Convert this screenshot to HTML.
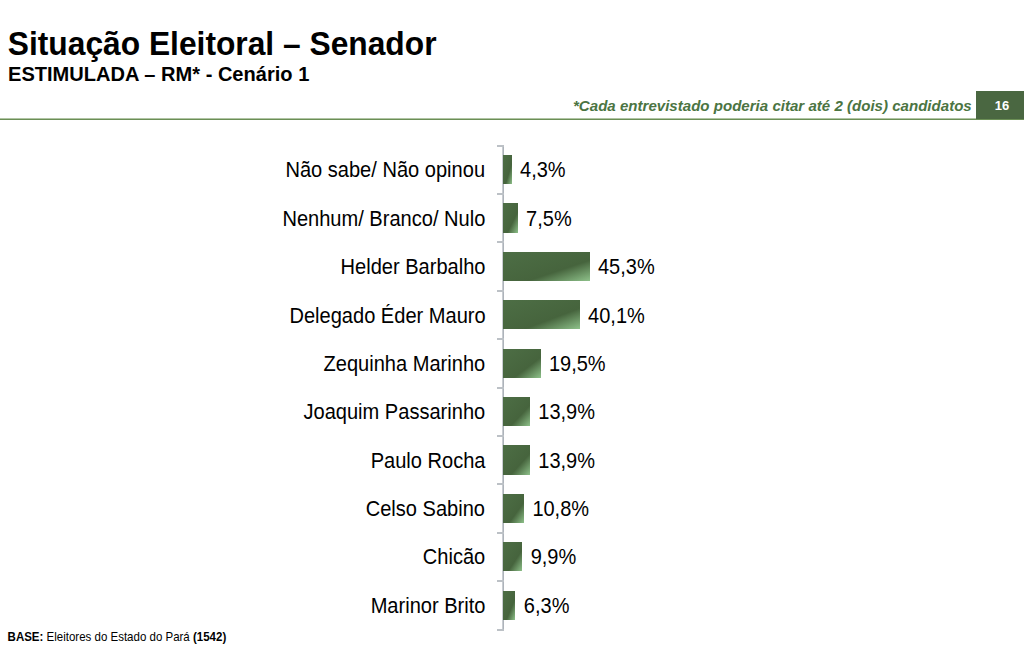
<!DOCTYPE html>
<html><head><meta charset="utf-8">
<style>
html,body{margin:0;padding:0;background:#fff;}
body{width:1024px;height:646px;position:relative;overflow:hidden;font-family:"Liberation Sans",sans-serif;color:#000;}
.t1{position:absolute;left:8px;top:24px;font-size:32px;font-weight:bold;line-height:38px;white-space:nowrap;transform-origin:0 19px;transform:translate(-0.2px,0px) scale(0.992,1.055);}
.t2{position:absolute;left:8.1px;top:62.6px;font-size:20px;font-weight:bold;line-height:22px;white-space:nowrap;transform-origin:0 11px;transform:scale(1.003,1.042);}
.note{position:absolute;left:573px;top:95.6px;font-size:15px;font-weight:bold;font-style:italic;color:#4b7442;line-height:20px;white-space:nowrap;transform-origin:0 10px;transform:scale(1.005,1.0);}
.hline{position:absolute;left:0;top:119px;width:1024px;height:1px;background:#6b8f55;box-shadow:0 -1px 0 #b0c4a4;}
.pg{position:absolute;left:976px;top:91px;width:48px;height:28px;background:#4a6741;}
.pgn{position:absolute;left:978px;top:92.4px;width:48px;color:#fff;font-weight:bold;font-size:13px;line-height:28px;text-align:center;transform-origin:50% 14px;transform:scaleY(1.03);}
.axis{position:absolute;left:502px;top:144.85px;width:2px;height:485.60px;background:linear-gradient(to right,#c9cdd2 50%,#adb3ba 50%);}
.tick{position:absolute;left:497px;width:7px;height:2px;background:#bcc1c6;}
.bar{position:absolute;left:503.0px;height:29.2px;background:linear-gradient(to bottom right,#4d6e45 0%,#46643d 64%,#8ec18a 100%);}
.lbl{position:absolute;right:538.8px;font-size:20px;line-height:24px;white-space:nowrap;text-align:right;transform-origin:100% 12.05px;transform:scale(1.003,1.07);}
.val{position:absolute;font-size:20px;line-height:24px;white-space:nowrap;transform-origin:0 12.05px;transform:scale(1,1.07);}
.base{position:absolute;left:7.6px;top:630.1px;font-size:11.5px;line-height:14px;white-space:nowrap;transform-origin:0 7px;transform:scaleY(1.04);}
</style></head><body>
<div class="t1">Situação Eleitoral – Senador</div>
<div class="t2">ESTIMULADA – RM* - Cenário 1</div>
<div class="note">*Cada entrevistado poderia citar até 2 (dois) candidatos</div>
<div class="hline"></div>
<div class="pg"></div>
<div class="pgn">16</div>
<div class="axis"></div>
<div class="tick" style="top:145px"></div>
<div class="bar" style="top:155.00px;width:8.63px"></div>
<div class="lbl" style="top:158.35px">Não sabe/ Não opinou</div>
<div class="val" style="top:158.35px;left:520.03px">4,3%</div>
<div class="tick" style="top:193px"></div>
<div class="bar" style="top:203.39px;width:14.71px"></div>
<div class="lbl" style="top:206.74px">Nenhum/ Branco/ Nulo</div>
<div class="val" style="top:206.74px;left:526.11px">7,5%</div>
<div class="tick" style="top:241px"></div>
<div class="bar" style="top:251.78px;width:86.59px"></div>
<div class="lbl" style="top:255.13px">Helder Barbalho</div>
<div class="val" style="top:255.13px;left:597.99px">45,3%</div>
<div class="tick" style="top:290px"></div>
<div class="bar" style="top:300.17px;width:76.70px"></div>
<div class="lbl" style="top:303.52px">Delegado Éder Mauro</div>
<div class="val" style="top:303.52px;left:588.10px">40,1%</div>
<div class="tick" style="top:338px"></div>
<div class="bar" style="top:348.56px;width:37.53px"></div>
<div class="lbl" style="top:351.91px">Zequinha Marinho</div>
<div class="val" style="top:351.91px;left:548.93px">19,5%</div>
<div class="tick" style="top:387px"></div>
<div class="bar" style="top:396.95px;width:26.88px"></div>
<div class="lbl" style="top:400.30px">Joaquim Passarinho</div>
<div class="val" style="top:400.30px;left:538.28px">13,9%</div>
<div class="tick" style="top:435px"></div>
<div class="bar" style="top:445.34px;width:26.88px"></div>
<div class="lbl" style="top:448.69px">Paulo Rocha</div>
<div class="val" style="top:448.69px;left:538.28px">13,9%</div>
<div class="tick" style="top:483px"></div>
<div class="bar" style="top:493.73px;width:20.99px"></div>
<div class="lbl" style="top:497.08px">Celso Sabino</div>
<div class="val" style="top:497.08px;left:532.39px">10,8%</div>
<div class="tick" style="top:532px"></div>
<div class="bar" style="top:542.12px;width:19.27px"></div>
<div class="lbl" style="top:545.47px">Chicão</div>
<div class="val" style="top:545.47px;left:530.67px">9,9%</div>
<div class="tick" style="top:580px"></div>
<div class="bar" style="top:590.51px;width:12.43px"></div>
<div class="lbl" style="top:593.86px">Marinor Brito</div>
<div class="val" style="top:593.86px;left:523.83px">6,3%</div>
<div class="tick" style="top:629px"></div>
<div class="base"><b>BASE:</b> Eleitores do Estado do Pará <b>(1542)</b></div>
</body></html>
